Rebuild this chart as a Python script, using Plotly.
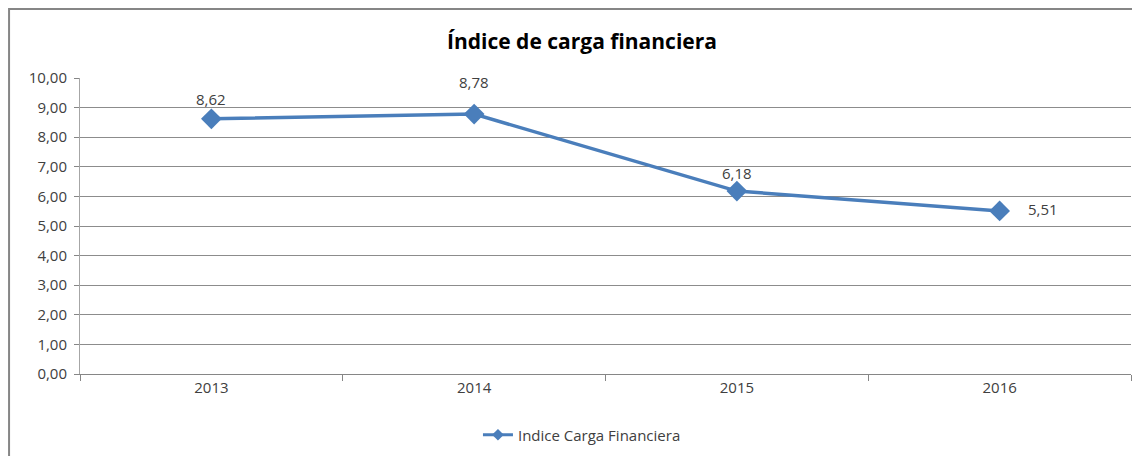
import plotly.graph_objects as go

years = ["2013", "2014", "2015", "2016"]
values = [8.62, 8.78, 6.18, 5.51]
labels = ["8,62", "8,78", "6,18", "5,51"]
series_name = "Indice Carga Financiera"
title_text = "Índice de carga financiera"

BLUE = "#4a7ebb"
FONT = "Open Sans"
TXT = "#404040"

fig = go.Figure()
fig.add_trace(go.Scatter(
    x=years, y=values, mode="lines+markers", name=series_name,
    line=dict(color=BLUE, width=3.5),
    marker=dict(symbol="diamond", size=16, color=BLUE),
    hoverinfo="skip", showlegend=False,
))
# legend-only entry with the smaller legend marker
fig.add_trace(go.Scatter(
    x=[None], y=[None], mode="lines+markers", name=series_name,
    line=dict(color=BLUE, width=3),
    marker=dict(symbol="diamond", size=9, color=BLUE),
    hoverinfo="skip", showlegend=True,
))

# data labels (x given as category index)
offsets = [(0, 20, "center"), (0, 32, "center"), (0, 18, "center"), (26, 2, "left")]
for i, (yv, lab, (dx, dy, anc)) in enumerate(zip(values, labels, offsets)):
    fig.add_annotation(x=i, y=yv, text=lab, showarrow=False, xshift=dx, yshift=dy,
                       xanchor=anc, yanchor="middle",
                       font=dict(family=FONT, size=15, color=TXT))

# outer chart border (left and top edges visible, right/bottom run off the picture)
fig.add_shape(type="rect", xref="paper", yref="paper",
              x0=-0.0675, x1=1.05, y0=-0.4, y1=1.233,
              line=dict(color="#868686", width=2), fillcolor="rgba(0,0,0,0)", layer="below")

fig.update_layout(
    width=1132, height=448,
    margin=dict(l=72, r=9, t=70, b=82, autoexpand=False),
    paper_bgcolor="white", plot_bgcolor="white",
    separators=",.",
    font=dict(family=FONT, size=15, color=TXT),
    title=dict(text="<b>" + title_text + "</b>", x=0.4776, xref="paper", xanchor="center",
               y=1 - 34 / 448, yref="container", yanchor="middle",
               font=dict(family=FONT, size=21, color="#000000")),
    showlegend=True,
    legend=dict(orientation="h", x=0.4776, xanchor="center", y=-0.206, yanchor="middle",
                font=dict(family=FONT, size=15, color=TXT), bgcolor="rgba(0,0,0,0)"),
    xaxis=dict(type="category", range=[-0.5, 3.5], tickson="boundaries", ticks="outside",
               ticklen=6, tickcolor="#868686", showline=True, linecolor="#868686",
               linewidth=1, showgrid=False, tickangle=0, automargin=False,
               tickfont=dict(size=15, color=TXT), fixedrange=True),
    yaxis=dict(range=[0, 10], dtick=1, tickformat=".2f", ticks="outside", ticklen=5,
               tickcolor="#868686", showline=True, linecolor="#a6a6a6", linewidth=1,
               showgrid=True, gridcolor="#8c8c8c", gridwidth=1, zeroline=False,
               ticklabelstandoff=4, automargin=False,
               tickfont=dict(size=15, color=TXT), fixedrange=True),
)

fig.write_html("out.html")
